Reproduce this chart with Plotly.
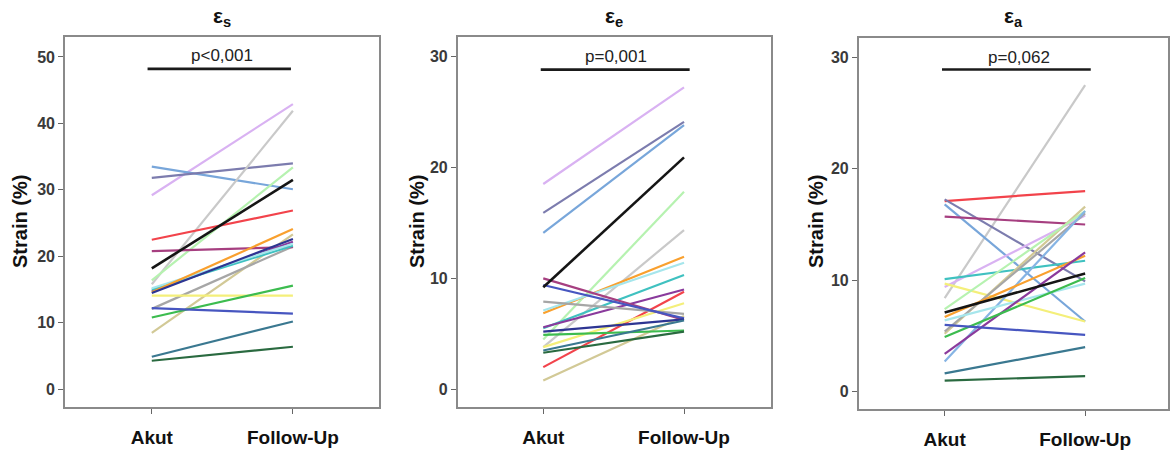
import plotly.graph_objects as go

# ---------------- data ----------------
categories = ["Akut", "Follow-Up"]

palette = {
    "lilac": "#d9b2f2", "lightblue": "#78a6da", "lightblue2": "#86b4e4", "slate": "#7c7cae",
    "lightgray": "#c9c9c9", "lightgreen": "#b6f2b0", "black": "#151515", "red": "#f2434b",
    "magenta": "#a63f80", "orange": "#f9a02e", "navy": "#2d3592", "lightcyan": "#a6e6ec",
    "tealcyan": "#3fc1c0", "purple": "#8a3a9c", "gray": "#a6a6a6", "khaki": "#d2c996",
    "yellow": "#f4ef7a", "green": "#3cbc4f", "blue": "#4756c0", "teal": "#3a7890",
    "darkgreen": "#2a6a40",
}

# Panel 1: eps_s
names_s = ["lilac", "lightblue", "slate", "lightgray", "lightgreen", "khaki", "gray", "red",
           "magenta", "purple", "tealcyan", "lightcyan", "orange", "navy", "yellow", "green",
           "blue", "teal", "darkgreen", "black"]
akut_s = [29.2, 33.5, 31.8, 15.8, 16.4, 8.5, 12.1, 22.5,
          20.8, 14.8, 15.0, 15.2, 14.6, 14.5, 14.1, 10.8,
          12.2, 4.9, 4.3, 18.2]
fu_s = [42.9, 30.1, 34.0, 41.9, 33.4, 23.3, 21.5, 26.9,
        21.4, 22.2, 21.6, 21.9, 24.1, 22.6, 14.1, 15.6,
        11.4, 10.2, 6.4, 31.5]

# Panel 2: eps_e
names_e = ["lilac", "slate", "lightblue", "lightgreen", "lightgray", "orange", "lightcyan",
           "tealcyan", "purple", "red", "yellow", "khaki", "gray", "magenta", "blue", "navy",
           "green", "teal", "darkgreen", "black"]
akut_e = [18.5, 15.9, 14.1, 4.5, 3.8, 6.85, 7.1,
          5.5, 5.6, 2.0, 3.8, 0.8, 7.9, 10.0, 9.4, 5.2,
          4.9, 3.5, 3.3, 9.2]
fu_e = [27.2, 24.1, 23.8, 17.8, 14.35, 11.95, 11.4,
        10.3, 9.0, 8.8, 7.75, 6.6, 6.8, 6.25, 6.4, 6.3,
        5.3, 6.2, 5.2, 20.9]

# Panel 3: eps_a
names_a = ["lightgray", "red", "slate", "lightblue", "magenta", "lilac", "tealcyan", "yellow",
           "khaki", "lightgreen", "gray", "lightblue2", "lightcyan", "orange", "purple", "green",
           "blue", "teal", "darkgreen", "black"]
akut_a = [8.4, 17.1, 17.25, 16.8, 15.7, 9.4, 10.1, 9.7,
          5.2, 7.4, 5.4, 2.7, 6.4, 6.7, 3.4, 4.9,
          6.0, 1.65, 1.0, 7.1]
fu_a = [27.5, 18.0, 9.9, 6.3, 15.0, 15.8, 11.75, 6.3,
        16.6, 16.2, 16.0, 16.2, 9.7, 12.2, 12.5, 10.2,
        5.1, 4.0, 1.4, 10.6]

titles = ["<b>ε<sub>s</sub></b>", "<b>ε<sub>e</sub></b>", "<b>ε<sub>a</sub></b>"]
p_texts = ["p&lt;0,001", "p=0,001", "p=0,062"]
y_ticks = [[0, 10, 20, 30, 40, 50], [0, 10, 20, 30], [0, 10, 20, 30]]
y_title = "Strain (%)"

# ---------------- layout geometry ----------------
W, H = 1171, 450
x_domains = [(65 / W, 379 / W), (457.7 / W, 771 / W), (858.7 / W, 1168 / W)]
y_domains = [(1 - 407 / H, 1 - 37 / H), (1 - 407 / H, 1 - 36.7 / H), (1 - 409 / H, 1 - 38.3 / H)]
x_ranges = [[-0.615, 1.61], [-0.608, 1.618], [-0.612, 1.59]]
y_ranges = [[-2.66, 53.0], [-1.59, 31.77], [-1.55, 31.7]]
bar_x = [[-0.03, 0.986], [-0.018, 1.04], [-0.019, 1.04]]
bar_y = [48.2, 28.8, 28.9]
p_pos = [(0.5, 50.2), (0.52, 30.0), (0.53, 30.0)]
ytitle_x = [20, 417, 816]

FONT = "Liberation Sans, Arial, sans-serif"

fig = go.Figure()
panels = [(names_s, akut_s, fu_s), (names_e, akut_e, fu_e), (names_a, akut_a, fu_a)]

for i, (names, ak, fu) in enumerate(panels):
    xa = "x" if i == 0 else f"x{i + 1}"
    ya = "y" if i == 0 else f"y{i + 1}"
    for nm, a, f in zip(names, ak, fu):
        fig.add_trace(go.Scatter(
            x=[0, 1], y=[a, f], mode="lines",
            line=dict(color=palette[nm], width=2.6 if nm == "black" else 2.2),
            xaxis=xa, yaxis=ya, showlegend=False, hoverinfo="skip"))
    # significance bar
    fig.add_trace(go.Scatter(
        x=bar_x[i], y=[bar_y[i], bar_y[i]], mode="lines",
        line=dict(color="#1a1a1a", width=2.6),
        xaxis=xa, yaxis=ya, showlegend=False, hoverinfo="skip"))
    fig.add_annotation(x=p_pos[i][0], y=p_pos[i][1], xref=xa, yref=ya,
                       text=p_texts[i], showarrow=False,
                       font=dict(family=FONT, size=17, color="#222222"),
                       xanchor="center", yanchor="middle")
    # panel title
    cx = (x_domains[i][0] + x_domains[i][1]) / 2
    fig.add_annotation(x=cx, y=1 - 17 / H, xref="paper", yref="paper",
                       text=titles[i], showarrow=False,
                       font=dict(family=FONT, size=21, color="#111111"),
                       xanchor="center", yanchor="middle")
    # y-axis title
    fig.add_annotation(x=ytitle_x[i] / W, y=1 - 222 / H,
                       xref="paper", yref="paper", text="<b>" + y_title + "</b>",
                       textangle=-90, showarrow=False,
                       font=dict(family=FONT, size=20, color="#111111"),
                       xanchor="center", yanchor="middle")

    axis_common = dict(showline=True, mirror=True, linecolor="#8a8a8a", linewidth=1.6,
                       showgrid=False, zeroline=False, ticks="outside", ticklen=5,
                       tickcolor="#666666", tickwidth=1.2)
    fig.update_layout(**{
        ("xaxis" if i == 0 else f"xaxis{i + 1}"): dict(
            domain=list(x_domains[i]), range=x_ranges[i], tickvals=[0, 1],
            ticktext=["<b>" + c + "</b>" for c in categories],
            tickfont=dict(family=FONT, size=19, color="#111111"),
            ticklabelstandoff=7, anchor=ya, **axis_common),
        ("yaxis" if i == 0 else f"yaxis{i + 1}"): dict(
            domain=list(y_domains[i]), range=y_ranges[i], tickvals=y_ticks[i],
            ticktext=["<b>" + str(t) + "</b>" for t in y_ticks[i]],
            tickfont=dict(family=FONT, size=16, color="#3a3a3a"),
            anchor=xa, **axis_common),
    })

fig.update_layout(width=W, height=H, margin=dict(l=0, r=0, t=0, b=0),
                  paper_bgcolor="white", plot_bgcolor="white")

# remove the browser's default 8px body margin so the figure sits at the window origin
fig.write_html("out.html", config={"displayModeBar": False},
               post_script="document.body.style.margin='0';")
